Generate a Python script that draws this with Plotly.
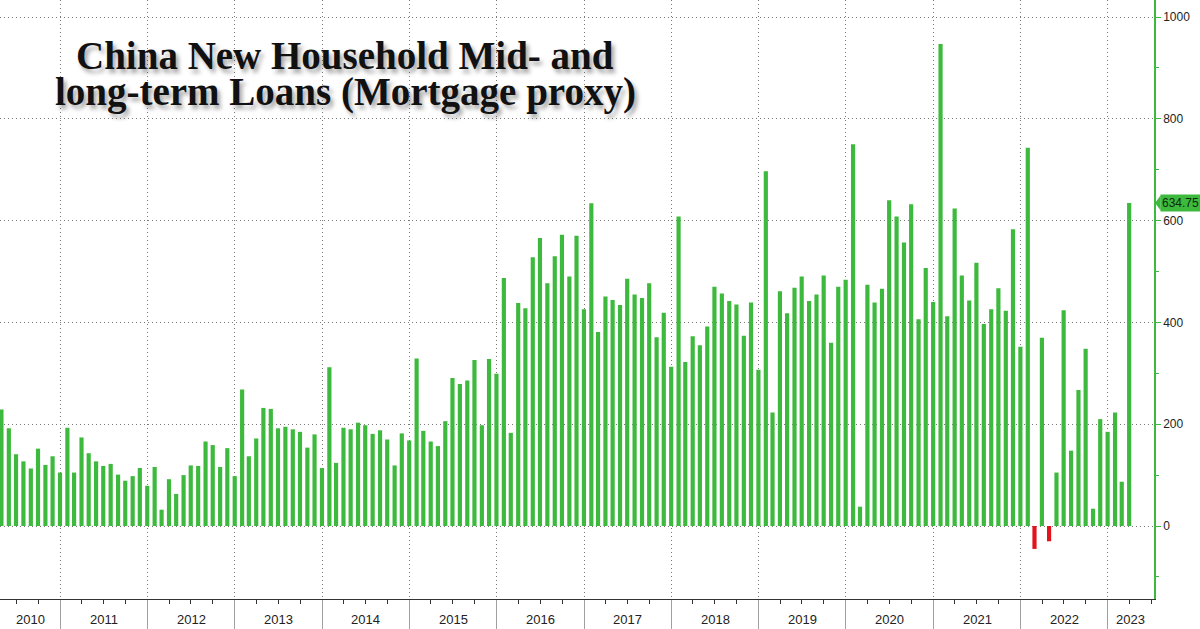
import pandas as pd
import plotly.graph_objects as go

# China new household mid/long-term loans, monthly (bn yuan)
loans_2010 = [229, 192, 141, 127, 113, 152, 120, 137, 105]  # Apr-Dec
loans_2011 = [193, 105, 174, 143, 127, 118, 122, 101, 89, 98, 114, 79]
loans_2012 = [116, 32, 92, 63, 100, 119, 118, 166, 159, 116, 153, 98]
loans_2013 = [268, 137, 172, 232, 230, 192, 195, 190, 185, 154, 180, 114]
loans_2014 = [312, 124, 193, 190, 203, 198, 181, 188, 170, 119, 182, 168]
loans_2015 = [329, 187, 166, 157, 206, 291, 279, 286, 326, 198, 328, 299]
loans_2016 = [487, 183, 438, 428, 528, 566, 477, 530, 572, 490, 570, 426]
loans_2017 = [634, 381, 451, 444, 434, 486, 455, 448, 477, 371, 419, 313]
loans_2018 = [608, 322, 373, 355, 392, 470, 457, 442, 435, 374, 439, 307]
loans_2019 = [697, 223, 461, 418, 468, 490, 442, 455, 492, 360, 470, 484]
loans_2020 = [750, 38, 474, 439, 466, 640, 608, 557, 632, 406, 507, 440]
loans_2021 = [947, 412, 624, 492, 443, 517, 397, 426, 467, 423, 583, 352]
loans_2022 = [743, -45, 370, -30, 105, 424, 148, 267, 348, 34, 210, 185]
loans_2023 = [223, 87, 634.75]  # Jan-Mar

year_labels = [str(y) for y in range(2010, 2024)]
y_ticks = [0, 200, 400, 600, 800, 1000]

values = (loans_2010 + loans_2011 + loans_2012 + loans_2013 + loans_2014
          + loans_2015 + loans_2016 + loans_2017 + loans_2018 + loans_2019
          + loans_2020 + loans_2021 + loans_2022 + loans_2023)
months = pd.date_range("2010-04-01", periods=len(values), freq="MS") + pd.offsets.MonthEnd(0)

GREEN = "#3dba3d"
RED = "#e3131b"
GRID = "#7a7a7a"
colors = [GREEN if v >= 0 else RED for v in values]

x_start = pd.Timestamp("2010-04-24")
x_end = pd.Timestamp("2023-07-13")

fig = go.Figure(
    go.Bar(
        x=months,
        y=values,
        marker=dict(color=colors, line=dict(width=0)),
        width=17.5 * 86400000,
        hoverinfo="x+y",
    )
)

# year labels, centred on the visible part of each year
annotations = []
for label in year_labels:
    a = max(pd.Timestamp(f"{label}-01-01"), x_start)
    b = min(pd.Timestamp(f"{int(label) + 1}-01-01"), x_end)
    annotations.append(dict(
        x=a + (b - a) / 2, y=-0.035, xref="x", yref="paper",
        text=label, showarrow=False, yanchor="middle",
        font=dict(family="Liberation Sans", size=13, color="#222"),
    ))

title_font = dict(family="Liberation Serif", size=39, color="#111",
                  weight="bold", shadow="3px 4px 4px rgba(0,0,0,0.35)")
annotations.append(dict(x=0.299, y=0.907, xref="paper", yref="paper",
                        text="China New Household Mid- and", showarrow=False,
                        font=title_font, xanchor="center", yanchor="middle"))
annotations.append(dict(x=0.299, y=0.847, xref="paper", yref="paper",
                        text="long-term Loans (Mortgage proxy)", showarrow=False,
                        font=title_font, xanchor="center", yanchor="middle"))

# last value tag on the right axis
last = values[-1]
annotations.append(dict(x=1.0055, y=last, xref="paper", yref="y",
                        text=f"{last:.2f}", showarrow=False, xanchor="left",
                        yanchor="middle", bgcolor=GREEN, borderpad=1,
                        font=dict(family="Liberation Sans", size=12, color="#0d2a0d")))

fig.update_layout(
    width=1200,
    height=629,
    margin=dict(l=0, r=46, t=0, b=30, autoexpand=False),
    plot_bgcolor="white",
    paper_bgcolor="white",
    showlegend=False,
    annotations=annotations,
    shapes=[dict(type="path", xref="paper", yref="y",
                 path=f"M 1.0009,{last} L 1.0058,{last + 15} L 1.0058,{last - 15} Z",
                 fillcolor=GREEN, line=dict(width=0))],
    xaxis=dict(
        type="date",
        range=[x_start, x_end],
        tick0="2010-01-01",
        dtick="M12",
        showgrid=True,
        gridcolor=GRID,
        griddash="1px,3px",
        gridwidth=1,
        ticks="outside",
        ticklen=30,
        tickcolor="#a0a0a0",
        showticklabels=False,
        showline=True,
        linecolor="#333",
        linewidth=1,
        zeroline=False,
        minor=dict(dtick="M3", tick0="2010-01-01", ticks="outside",
                   ticklen=4, tickcolor="#333", showgrid=False),
        fixedrange=True,
    ),
    yaxis=dict(
        side="right",
        range=[-143.4, 1033.4],
        tickvals=y_ticks,
        tickformat="d",
        showgrid=True,
        gridcolor=GRID,
        griddash="1px,3px",
        gridwidth=1,
        showline=True,
        linecolor=GREEN,
        linewidth=1.5,
        ticks="outside",
        ticklen=5,
        tickcolor=GREEN,
        minor=dict(dtick=100, tick0=0, ticks="outside", ticklen=3,
                   tickcolor=GREEN, showgrid=False),
        zeroline=False,
        tickfont=dict(family="Liberation Sans", size=12, color="#222"),
        fixedrange=True,
    ),
)

# drop the default page margin so the figure sits flush in the window
fig.write_html("out.html", config={"displayModeBar": False},
               post_script="document.body.style.margin='0';")
